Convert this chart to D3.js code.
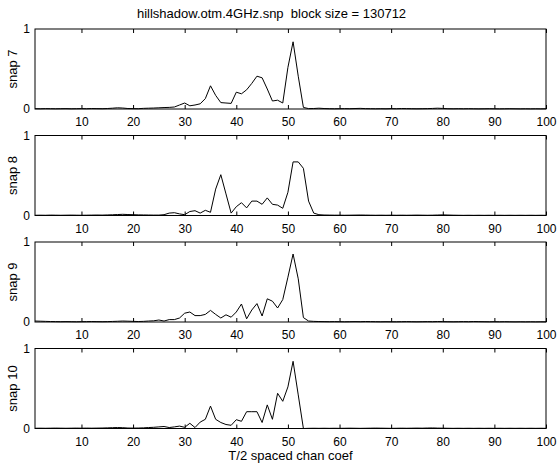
<!DOCTYPE html>
<html>
<head>
<meta charset="utf-8">
<script src="https://cdn.jsdelivr.net/npm/d3@7"></script>
<style>
  html, body { margin: 0; padding: 0; background: #fff; }
  svg { display: block; }
  text { font-family: "Liberation Sans", Arial, Helvetica, sans-serif; font-size: 13px; fill: #000; }
</style>
</head>
<body>
<svg id="chart" width="558" height="463"></svg>
<script>
const title = "hillshadow.otm.4GHz.snp  block size = 130712";
const xLabel = "T/2 spaced chan coef";
const panelLabels = ["snap 7", "snap 8", "snap 9", "snap 10"];
const xTicks = [10, 20, 30, 40, 50, 60, 70, 80, 90, 100];
const yTicks = [0, 1];

const snap7 = [
  0.004,0.003,0.005,0.004,0.003,0.004,0.005,0.003,0.004,0.005,
  0.004,0.006,0.005,0.004,0.006,0.010,0.015,0.012,0.006,0.005,
  0.004,0.008,0.010,0.012,0.015,0.018,0.020,0.025,0.050,0.075,
  0.040,0.050,0.065,0.130,0.290,0.170,0.080,0.075,0.070,0.210,
  0.190,0.240,0.320,0.410,0.390,0.250,0.100,0.110,0.075,0.520,
  0.840,0.410,0.020,0.005,0.006,0.010,0.006,0.004,0.003,0.004,
  0.005,0.004,0.006,0.008,0.005,0.004,0.003,0.004,0.003,0.005,
  0.004,0.006,0.005,0.004,0.003,0.004,0.005,0.007,0.010,0.007,
  0.004,0.003,0.004,0.003,0.004,0.003,0.002,0.003,0.004,0.003,
  0.002,0.003,0.004,0.003,0.002,0.003,0.002,0.003,0.002,0.003
];
const snap8 = [
  0.003,0.004,0.003,0.005,0.004,0.003,0.004,0.005,0.004,0.003,
  0.004,0.005,0.006,0.005,0.007,0.009,0.012,0.015,0.012,0.010,
  0.008,0.007,0.006,0.005,0.005,0.010,0.030,0.035,0.020,0.010,
  0.050,0.060,0.030,0.065,0.040,0.330,0.510,0.270,0.030,0.110,
  0.160,0.095,0.180,0.180,0.140,0.220,0.140,0.130,0.090,0.290,
  0.670,0.670,0.590,0.180,0.030,0.010,0.006,0.005,0.004,0.004,
  0.003,0.004,0.005,0.006,0.005,0.004,0.003,0.004,0.003,0.004,
  0.003,0.004,0.003,0.004,0.005,0.004,0.003,0.004,0.006,0.008,
  0.006,0.004,0.003,0.002,0.003,0.002,0.003,0.002,0.003,0.002,
  0.003,0.002,0.003,0.002,0.003,0.002,0.003,0.002,0.003,0.002
];
const snap9 = [
  0.012,0.010,0.008,0.006,0.005,0.004,0.005,0.004,0.003,0.004,
  0.005,0.006,0.005,0.004,0.005,0.007,0.009,0.012,0.010,0.008,
  0.006,0.008,0.012,0.015,0.025,0.012,0.030,0.030,0.050,0.110,
  0.125,0.080,0.080,0.095,0.145,0.095,0.050,0.090,0.060,0.125,
  0.225,0.040,0.150,0.230,0.075,0.290,0.260,0.175,0.280,0.560,
  0.850,0.540,0.055,0.012,0.008,0.006,0.005,0.004,0.005,0.004,
  0.003,0.004,0.005,0.004,0.006,0.005,0.004,0.003,0.004,0.003,
  0.003,0.004,0.005,0.004,0.003,0.004,0.005,0.004,0.006,0.005,
  0.004,0.003,0.004,0.005,0.004,0.006,0.005,0.004,0.003,0.004,
  0.003,0.004,0.003,0.002,0.003,0.002,0.003,0.002,0.003,0.002
];
const snap10 = [
  0.003,0.004,0.003,0.004,0.005,0.004,0.003,0.004,0.005,0.004,
  0.005,0.004,0.005,0.006,0.008,0.010,0.012,0.010,0.006,0.005,
  0.006,0.008,0.012,0.015,0.020,0.025,0.012,0.020,0.030,0.015,
  0.065,0.012,0.080,0.115,0.280,0.115,0.075,0.050,0.040,0.110,
  0.090,0.210,0.210,0.210,0.075,0.295,0.115,0.440,0.340,0.520,
  0.840,0.420,0.000,0.002,0.003,0.002,0.003,0.002,0.003,0.002,
  0.003,0.004,0.003,0.002,0.003,0.004,0.005,0.004,0.003,0.002,
  0.003,0.004,0.003,0.004,0.005,0.004,0.006,0.007,0.005,0.004,
  0.003,0.002,0.003,0.002,0.003,0.002,0.003,0.002,0.003,0.002,
  0.003,0.002,0.003,0.002,0.003,0.002,0.003,0.002,0.003,0.002
];
const series = [snap7, snap8, snap9, snap10];

const svg = d3.select("#chart");
const left = 35, right = 546;
const panelTops = [29, 135.5, 242, 348.5];
const panelH = 80;

const x = d3.scaleLinear().domain([1, 100]).range([left, right]);

svg.append("text")
  .attr("x", 271.5)
  .attr("y", 18)
  .attr("text-anchor", "middle")
  .style("white-space", "pre")
  .attr("xml:space", "preserve")
  .text(title);

series.forEach((vals, k) => {
  const top = panelTops[k];
  const y = d3.scaleLinear().domain([0, 1]).range([top + panelH, top]);
  const g = svg.append("g");

  const line = d3.line().x((d, i) => x(i + 1)).y(d => y(d));
  g.append("path")
    .datum(vals)
    .attr("d", line)
    .attr("fill", "none")
    .attr("stroke", "#000")
    .attr("stroke-width", 1)
    .attr("stroke-linejoin", "round");

  const xb = d3.axisBottom(x).tickValues(xTicks).tickSizeInner(-4).tickSizeOuter(0).tickPadding(8.5);
  const gb = g.append("g").attr("transform", `translate(0,${top + panelH})`).call(xb);
  gb.select(".domain").remove();
  gb.selectAll("text").style("font-family", "'Liberation Sans', Arial, sans-serif").style("font-size", "12px").attr("fill", "#000");
  gb.selectAll("line").attr("stroke", "#000");

  const xt = d3.axisTop(x).tickValues(xTicks).tickSizeInner(-4).tickSizeOuter(0).tickFormat("");
  const gt = g.append("g").attr("transform", `translate(0,${top})`).call(xt);
  gt.select(".domain").remove();
  gt.selectAll("line").attr("stroke", "#000");

  const ya = d3.axisLeft(y).tickValues(yTicks).tickSizeInner(0).tickSizeOuter(0).tickPadding(5).tickFormat(d3.format("d"));
  const gy = g.append("g").attr("transform", `translate(${left},0)`).call(ya);
  gy.select(".domain").remove();
  gy.selectAll("text").style("font-family", "'Liberation Sans', Arial, sans-serif").style("font-size", "12px").attr("fill", "#000");

  g.append("rect")
    .attr("x", left).attr("y", top)
    .attr("width", right - left).attr("height", panelH)
    .attr("fill", "none").attr("stroke", "#000").attr("stroke-width", 1);

  g.append("text")
    .attr("transform", `translate(17,${top + panelH / 2}) rotate(-90)`)
    .attr("text-anchor", "middle")
    .text(panelLabels[k]);
});

svg.append("text")
  .attr("x", (left + right) / 2)
  .attr("y", 460)
  .attr("text-anchor", "middle")
  .text(xLabel);
</script>
</body>
</html>
